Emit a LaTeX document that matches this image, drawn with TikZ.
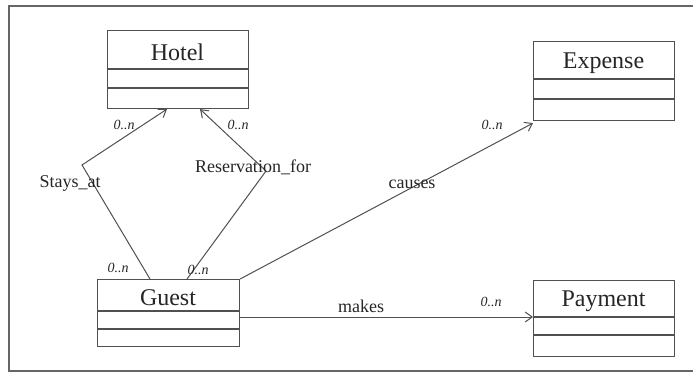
\documentclass[tikz,border=0pt]{standalone}
\usepackage{fontspec}
\setmainfont{Liberation Serif}
\usetikzlibrary{arrows.meta,calc}
\definecolor{ink}{HTML}{262626}
\definecolor{edge}{HTML}{505050}
\definecolor{frame}{HTML}{666666}
\tikzset{
  classbox/.style={draw=edge, line width=1.1pt, rectangle, inner sep=0pt, anchor=north west},
  classname/.style={text=ink, font=\fontsize{24}{28}\selectfont, inner sep=0pt},
  assoc/.style={draw=edge, line width=1pt},
  navig/.style={assoc, -{Straight Barb[length=7pt,width=10pt,line width=1pt]}},
  rolename/.style={text=ink, font=\fontsize{18}{20}\selectfont, inner sep=1pt},
  mult/.style={text=ink, font=\itshape\fontsize{14}{16}\selectfont, inner sep=0pt},
}
% class with name compartment and two empty compartments
% #1 name, #2 text, #3 x, #4 y, #5 width, #6 height, #7 first divider, #8 second divider
\newcommand{\umlclass}[8]{%
  \node[classbox, minimum width=#5pt, minimum height=#6pt] (#1) at (#3,#4) {};
  \node[classname] (#1-title) at ($(#1.north west)+(#5/2,#7/2+3)$) {#2};
  \draw[draw=edge, line width=1.1pt] ($(#1.north west)+(0,#7)$) -- ($(#1.north east)+(0,#7)$);
  \draw[draw=edge, line width=1.1pt] ($(#1.north west)+(0,#8)$) -- ($(#1.north east)+(0,#8)$);
}
\begin{document}
\begin{tikzpicture}[x=1pt,y=-1pt]
  \useasboundingbox (0,0) rectangle (693,372);
  % outer frame (open on the right)
  \draw[frame, line width=1.6pt] (693,6) -- (9,6) -- (9,371) -- (693,371);

  \umlclass{hotel}{Hotel}{107}{30}{141}{78}{39}{58}
  \umlclass{expense}{Expense}{533}{41}{141}{79}{38}{58}
  \umlclass{guest}{Guest}{97}{279}{142}{67}{32}{50}
  \umlclass{payment}{Payment}{533}{280}{141}{76}{37}{55}

  % bend points of the two Guest-Hotel associations
  \coordinate (staysbend) at (82,165);
  \coordinate (resbend) at (266,171);

  \draw[navig] ($(guest.north west)+(53,0)$) -- (staysbend) -- ($(hotel.south west)+(60,0)$);
  \draw[navig] ($(guest.north west)+(90,0)$) -- (resbend) -- ($(hotel.south west)+(93,0)$);
  \draw[navig] (guest.north east) -- ($(expense.south west)+(0,2)$);
  \draw[navig] ($(guest.north east)+(0,38)$) -- ($(payment.north west)+(0,37)$);

  % association names
  \node[rolename] (staysat) at (70,183) {Stays\_at};
  \node[rolename] (resfor) at (253,167) {Reservation\_for};
  \node[rolename] (causes) at (412,184) {causes};
  \node[rolename] (makes) at (361,306) {makes};

  % multiplicities
  \node[mult] (m1) at (124,125) {0..n};
  \node[mult] (m2) at (238,125) {0..n};
  \node[mult] (m3) at (492,125) {0..n};
  \node[mult] (m4) at (118,268) {0..n};
  \node[mult] (m5) at (198,270) {0..n};
  \node[mult] (m6) at (491,302) {0..n};
\end{tikzpicture}
\end{document}
